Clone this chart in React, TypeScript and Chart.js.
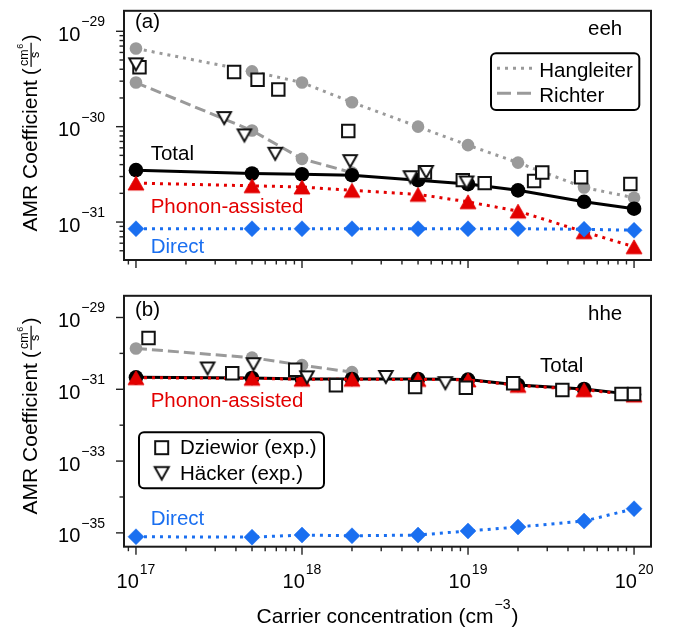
import React, { useEffect, useRef } from "react";
import { Chart, registerables } from "chart.js";
Chart.register(...registerables);

const FONT = '"Liberation Sans", Arial, Helvetica, sans-serif';
const RED = "#e30000";
const BLUE = "#1a6ff0";
const GRAY = "#9a9a9a";
const INK = "#111111";

// ---------- data ----------
const xTheory = [1e17, 5e17, 1e18, 2e18, 5e18, 1e19, 2e19, 5e19, 1e20];
const xRichter = [1e17, 5e17, 1e18, 2e18];

// (a) eeh
const eehTotal = [3.5e-31, 3.23e-31, 3.17e-31, 3.1e-31, 2.75e-31, 2.5e-31, 2.15e-31, 1.63e-31, 1.38e-31];
const eehPhonon = [2.56e-31, 2.4e-31, 2.33e-31, 2.15e-31, 1.95e-31, 1.63e-31, 1.3e-31, 7.9e-32, 5.5e-32];
const eehDirect = [8.5e-32, 8.5e-32, 8.5e-32, 8.5e-32, 8.5e-32, 8.5e-32, 8.5e-32, 8.4e-32, 8.2e-32];
const eehHangleiter = [6.6e-30, 3.8e-30, 2.9e-30, 1.8e-30, 1.0e-30, 6.4e-31, 4.2e-31, 2.3e-31, 1.8e-31];
const eehRichter = [2.9e-30, 9.1e-31, 4.6e-31, 3.3e-31];
const eehDziewiorX = [1.05e17, 3.9e17, 5.4e17, 7.2e17, 1.9e18, 5.5e18, 9.3e18, 1.26e19, 2.5e19, 2.8e19, 4.8e19, 9.5e19];
const eehDziewiorY = [4.2e-30, 3.75e-30, 3.1e-30, 2.45e-30, 9.0e-31, 3.3e-31, 2.75e-31, 2.56e-31, 2.7e-31, 3.3e-31, 2.95e-31, 2.5e-31];
const eehHackerX = [1e17, 3.4e17, 4.5e17, 6.9e17, 1.95e18, 4.5e18, 5.6e18, 9.8e18];
const eehHackerY = [4.5e-30, 1.23e-30, 8.1e-31, 5.2e-31, 4.35e-31, 2.95e-31, 3.35e-31, 2.6e-31];

// (b) hhe
const hheTotal = [2.15e-31, 2.06e-31, 1.93e-31, 1.93e-31, 1.93e-31, 1.86e-31, 1.32e-31, 1.02e-31, 7.1e-32];
const hhePhonon = [2.1e-31, 2.02e-31, 1.9e-31, 1.9e-31, 1.88e-31, 1.82e-31, 1.28e-31, 9.7e-32, 6.9e-32];
const hheDirect = [7.8e-36, 7.6e-36, 8.7e-36, 8.3e-36, 8.7e-36, 1.13e-35, 1.46e-35, 2.13e-35, 4.7e-35];
const hheRichter = [1.37e-30, 7.6e-31, 4.7e-31, 3.0e-31];
const hheDziewiorX = [1.19e17, 3.8e17, 9.1e17, 1.6e18, 4.8e18, 9.7e18, 1.87e19, 3.7e19, 8.4e19, 1e20];
const hheDziewiorY = [2.7e-30, 2.8e-31, 3.5e-31, 1.3e-31, 1.15e-31, 1.1e-31, 1.48e-31, 9.6e-32, 7.4e-32, 7.4e-32];
const hheHackerX = [2.7e17, 5.1e17, 1.07e18, 3.2e18, 7.3e18];
const hheHackerY = [3.8e-31, 5.0e-31, 2.15e-31, 2.2e-31, 1.48e-31];

// axes
const xRange = [8.47e16, 1.265e20];
const yRangeTop = [4.07e-32, 1.64e-29];
const yRangeBottom = [4.12e-36, 4.02e-29];
const xMajorTicks = [1e17, 1e18, 1e19, 1e20];
const xTickExps = ["17", "18", "19", "20"];
const yMajorTop = [1e-31, 1e-30, 1e-29];
const yExpTop = ["\u221231", "\u221230", "\u221229"];
const yMajorBottom = [1e-35, 1e-33, 1e-31, 1e-29];
const yExpBottom = ["\u221235", "\u221233", "\u221231", "\u221229"];
const yMinorBottom = [1e-34, 1e-32, 1e-30];

const pts = (xs: number[], ys: number[]) => xs.map((x, i) => ({ x, y: ys[i] }));

function makeTriangle(w: number, h: number, down: boolean, fill: string | null, stroke: string | null, lw: number) {
  const c = document.createElement("canvas");
  const pad = Math.ceil(lw) + 1;
  c.width = Math.ceil(w + 2 * pad);
  c.height = Math.ceil(h + 2 * pad);
  const ctx = c.getContext("2d")!;
  const cx = c.width / 2, cy = c.height / 2;
  ctx.beginPath();
  if (down) {
    ctx.moveTo(cx - w / 2, cy - h / 2);
    ctx.lineTo(cx + w / 2, cy - h / 2);
    ctx.lineTo(cx, cy + h / 2);
  } else {
    ctx.moveTo(cx - w / 2, cy + h / 2);
    ctx.lineTo(cx + w / 2, cy + h / 2);
    ctx.lineTo(cx, cy - h / 2);
  }
  ctx.closePath();
  if (fill) { ctx.fillStyle = fill; ctx.fill(); }
  if (stroke) { ctx.lineWidth = lw; ctx.lineJoin = "miter"; ctx.strokeStyle = stroke; ctx.stroke(); }
  return c;
}

function minorTicks(min: number, max: number) {
  const out: number[] = [];
  for (let e = Math.floor(Math.log10(min)) - 1; e <= Math.ceil(Math.log10(max)); e++) {
    for (let k = 2; k <= 9; k++) {
      const v = k * Math.pow(10, e);
      if (v >= min && v <= max) out.push(v);
    }
  }
  return out;
}

function drawPow(ctx: CanvasRenderingContext2D, exp: string, x: number, baseline: number, align: "right" | "center") {
  ctx.font = `20px ${FONT}`;
  const w10 = ctx.measureText("10").width;
  ctx.font = `14px ${FONT}`;
  const we = ctx.measureText(exp).width;
  const gap = 1;
  const total = w10 + gap + we;
  const sx = align === "right" ? x - total : x - total / 2;
  ctx.textAlign = "left";
  ctx.textBaseline = "alphabetic";
  ctx.font = `20px ${FONT}`;
  ctx.fillText("10", sx, baseline);
  ctx.font = `14px ${FONT}`;
  ctx.fillText(exp, sx + w10 + gap, baseline - 14.5);
}

function drawYTitle(ctx: CanvasRenderingContext2D, xBase: number, cy: number) {
  ctx.save();
  ctx.translate(xBase, cy);
  ctx.rotate(-Math.PI / 2);
  ctx.fillStyle = "#000";
  ctx.textAlign = "left";
  ctx.textBaseline = "alphabetic";
  const mainFont = `21px ${FONT}`, parFont = `20px ${FONT}`, fracFont = `12.5px ${FONT}`, supFont = `9px ${FONT}`;
  const tMain = "AMR Coefficient";
  ctx.font = mainFont; const wMain = ctx.measureText(tMain).width;
  ctx.font = parFont; const wPar = ctx.measureText("(").width;
  ctx.font = fracFont; const wCm = ctx.measureText("cm").width; const wS = ctx.measureText("s").width;
  ctx.font = supFont; const w6 = ctx.measureText("6").width;
  const wNum = wCm + w6 + 0.5;
  const wFrac = Math.max(wNum, wS) + 3;
  const gap1 = 5;
  const total = wMain + gap1 + wPar + 1 + wFrac + 1 + wPar;
  let x = -total / 2;
  ctx.font = mainFont; ctx.fillText(tMain, x, 0); x += wMain + gap1;
  ctx.font = parFont; ctx.fillText("(", x, -0.5); x += wPar + 1;
  const nx = x + (wFrac - wNum) / 2;
  ctx.font = fracFont; ctx.fillText("cm", nx, -9);
  ctx.font = supFont; ctx.fillText("6", nx + wCm + 0.5, -14);
  ctx.fillRect(x + 0.5, -6.5, wFrac - 1, 1.2);
  ctx.font = fracFont; ctx.fillText("s", x + (wFrac - wS) / 2, 1.5);
  x += wFrac + 1;
  ctx.font = parFont; ctx.fillText(")", x, -0.5);
  ctx.restore();
}

function roundRect(ctx: CanvasRenderingContext2D, x: number, y: number, w: number, h: number, r: number) {
  ctx.beginPath();
  ctx.moveTo(x + r, y);
  ctx.lineTo(x + w - r, y);
  ctx.arcTo(x + w, y, x + w, y + r, r);
  ctx.lineTo(x + w, y + h - r);
  ctx.arcTo(x + w, y + h, x + w - r, y + h, r);
  ctx.lineTo(x + r, y + h);
  ctx.arcTo(x, y + h, x, y + h - r, r);
  ctx.lineTo(x, y + r);
  ctx.arcTo(x, y, x + r, y, r);
  ctx.closePath();
}

type Note = { text: string; x: number; y: number; color: string };

type Panel = {
  id: string;
  offset: number;
  yMajor: number[];
  yExp: string[];
  yMinor: number[];
  xLabels: boolean;
  titleY: number;
  notes: Note[];
  legend: (ctx: CanvasRenderingContext2D, off: number) => void;
};

function figurePlugin(p: Panel) {
  return {
    id: "figure_" + p.id,
    afterDraw(chart: any) {
      const ctx: CanvasRenderingContext2D = chart.ctx;
      const ca = chart.chartArea;
      const xs = chart.scales.x, ys = chart.scales.y;
      const off = p.offset;
      ctx.save();
      ctx.strokeStyle = "#222";
      ctx.lineWidth = 1.4;
      ctx.setLineDash([]);
      const line = (x1: number, y1: number, x2: number, y2: number) => {
        ctx.beginPath(); ctx.moveTo(x1, y1); ctx.lineTo(x2, y2); ctx.stroke();
      };
      for (const v of xMajorTicks) { const x = xs.getPixelForValue(v); line(x, ca.bottom, x, ca.bottom + 8); }
      for (const v of minorTicks(xRange[0], xRange[1])) { const x = xs.getPixelForValue(v); line(x, ca.bottom, x, ca.bottom + 4.5); }
      for (const v of p.yMajor) { const y = ys.getPixelForValue(v); line(ca.left - 8, y, ca.left, y); }
      for (const v of p.yMinor) { const y = ys.getPixelForValue(v); line(ca.left - 4.5, y, ca.left, y); }
      // frame
      ctx.lineWidth = 2;
      ctx.strokeStyle = "#1a1a1a";
      ctx.strokeRect(ca.left, ca.top, ca.right - ca.left, ca.bottom - ca.top);
      // tick labels
      ctx.fillStyle = "#000";
      p.yMajor.forEach((v, i) => {
        const y = ys.getPixelForValue(v);
        drawPow(ctx, p.yExp[i], ca.left - 19, y + 9.5, "right");
      });
      if (p.xLabels) {
        xMajorTicks.forEach((v, i) => {
          const x = xs.getPixelForValue(v);
          drawPow(ctx, xTickExps[i], x, ca.bottom + 41.6, "center");
        });
        // x title
        const mf = `21px ${FONT}`, sf = `14px ${FONT}`;
        ctx.font = mf; const w1 = ctx.measureText("Carrier concentration (cm").width;
        ctx.font = sf; const w2 = ctx.measureText("\u22123").width;
        ctx.font = mf; const w3 = ctx.measureText(")").width;
        const tot = w1 + 1 + w2 + 1 + w3;
        const cx = (ca.left + ca.right) / 2;
        const bl = 623.3 - off;
        let sx = cx - tot / 2;
        ctx.textAlign = "left"; ctx.textBaseline = "alphabetic";
        ctx.font = mf; ctx.fillText("Carrier concentration (cm", sx, bl); sx += w1 + 1;
        ctx.font = sf; ctx.fillText("\u22123", sx, bl - 14.5); sx += w2 + 1;
        ctx.font = mf; ctx.fillText(")", sx, bl);
      }
      drawYTitle(ctx, 37, p.titleY - off);
      // annotations
      ctx.textAlign = "left";
      ctx.textBaseline = "alphabetic";
      ctx.font = `20.5px ${FONT}`;
      for (const n of p.notes) {
        ctx.fillStyle = n.color;
        ctx.fillText(n.text, n.x, n.y - off);
      }
      p.legend(ctx, off);
      ctx.restore();
    },
  };
}

const triUpRed = () => makeTriangle(16, 14, false, RED, RED, 0.8);
const triDownOpen = () => makeTriangle(13.5, 12, true, "#ffffff", INK, 2);

function buildDatasets(d: {
  total: number[]; phonon: number[]; direct: number[]; richter: number[]; hangleiter?: number[];
  dzX: number[]; dzY: number[]; hkX: number[]; hkY: number[];
}) {
  const tUp = triUpRed();
  const tDown = triDownOpen();
  const ds: any[] = [
    { label: "Häcker (exp.)", data: pts(d.hkX, d.hkY), showLine: false, pointStyle: tDown, pointRadius: 7,
      borderColor: INK, backgroundColor: "#fff" },
    { label: "Dziewior (exp.)", data: pts(d.dzX, d.dzY), showLine: false, pointStyle: "rect", pointRadius: 8.8,
      pointBackgroundColor: "#fff", pointBorderColor: INK, pointBorderWidth: 2, borderColor: INK, backgroundColor: "#fff" },
    { label: "Direct", data: pts(xTheory, d.direct), borderColor: BLUE, borderWidth: 3, borderDash: [3, 5],
      pointStyle: "rectRot", pointRadius: 8, pointBackgroundColor: BLUE, pointBorderColor: BLUE, pointBorderWidth: 0.5 },
    { label: "Phonon-assisted", data: pts(xTheory, d.phonon), borderColor: RED, borderWidth: 3, borderDash: [3, 5],
      pointStyle: tUp, pointRadius: 7 },
    { label: "Total", data: pts(xTheory, d.total), borderColor: "#000", borderWidth: 3,
      pointStyle: "circle", pointRadius: 7.3, pointBackgroundColor: "#000", pointBorderColor: "#000", pointBorderWidth: 0 },
    { label: "Richter", data: pts(xRichter, d.richter), borderColor: GRAY, borderWidth: 3, borderDash: [11, 5],
      pointStyle: "circle", pointRadius: 6.3, pointBackgroundColor: GRAY, pointBorderColor: GRAY, pointBorderWidth: 0 },
  ];
  if (d.hangleiter) {
    ds.push({ label: "Hangleiter", data: pts(xTheory, d.hangleiter), borderColor: GRAY, borderWidth: 3, borderDash: [3, 5],
      pointStyle: "circle", pointRadius: 6.3, pointBackgroundColor: GRAY, pointBorderColor: GRAY, pointBorderWidth: 0 });
  }
  return ds.map((x) => ({ fill: false, tension: 0, borderCapStyle: "butt", pointHoverRadius: x.pointRadius, ...x }));
}

function makeConfig(datasets: any[], yRange: number[], plugin: any, padTop: number, xHeight: number) {
  return {
    type: "line",
    data: { datasets },
    options: {
      animation: false,
      responsive: false,
      maintainAspectRatio: false,
      devicePixelRatio: 1,
      events: [],
      layout: { padding: { top: padTop, right: 26, left: 0, bottom: 0 } },
      plugins: { legend: { display: false }, tooltip: { enabled: false } },
      scales: {
        x: {
          type: "logarithmic", min: xRange[0], max: xRange[1],
          grid: { display: false, drawTicks: false }, border: { display: false },
          ticks: { display: false },
          afterFit: (s: any) => { s.height = xHeight; },
        },
        y: {
          type: "logarithmic", min: yRange[0], max: yRange[1],
          grid: { display: false, drawTicks: false }, border: { display: false },
          ticks: { display: false },
          afterFit: (s: any) => { s.width = 124; },
        },
      },
    },
    plugins: [plugin],
  };
}

const topLegend = (ctx: CanvasRenderingContext2D, off: number) => {
  const y0 = 53.3 - off;
  roundRect(ctx, 491, y0, 148.3, 56.7, 5);
  ctx.fillStyle = "#fff"; ctx.fill();
  ctx.setLineDash([]); ctx.lineWidth = 2; ctx.strokeStyle = "#000"; ctx.stroke();
  ctx.strokeStyle = GRAY; ctx.lineWidth = 3; ctx.lineCap = "butt";
  ctx.setLineDash([3, 5]);
  ctx.beginPath(); ctx.moveTo(497, 68.3 - off); ctx.lineTo(532, 68.3 - off); ctx.stroke();
  ctx.setLineDash([14, 6]);
  ctx.beginPath(); ctx.moveTo(497, 93.3 - off); ctx.lineTo(531, 93.3 - off); ctx.stroke();
  ctx.setLineDash([]);
  ctx.fillStyle = "#000"; ctx.font = `20.5px ${FONT}`; ctx.textAlign = "left"; ctx.textBaseline = "alphabetic";
  ctx.fillText("Hangleiter", 539.3, 76.7 - off);
  ctx.fillText("Richter", 539.3, 101.7 - off);
};

const bottomLegend = (ctx: CanvasRenderingContext2D, off: number) => {
  const y0 = 432.3 - off;
  roundRect(ctx, 139, y0, 185, 56, 5);
  ctx.fillStyle = "#fff"; ctx.fill();
  ctx.setLineDash([]); ctx.lineWidth = 2; ctx.strokeStyle = "#000"; ctx.stroke();
  ctx.strokeStyle = INK; ctx.lineWidth = 2;
  ctx.strokeRect(161.7 - 6.5, 447.7 - off - 6.5, 13, 13);
  const t = makeTriangle(14, 12.5, true, "#ffffff", INK, 2);
  ctx.drawImage(t, 161.7 - t.width / 2, 473.3 - off - t.height / 2);
  ctx.fillStyle = "#000"; ctx.font = `20.5px ${FONT}`; ctx.textAlign = "left"; ctx.textBaseline = "alphabetic";
  ctx.fillText("Dziewior (exp.)", 180, 454.3 - off);
  ctx.fillText("Häcker (exp.)", 180, 480 - off);
};

const topPanel: Panel = {
  id: "a", offset: 0, yMajor: yMajorTop, yExp: yExpTop, yMinor: minorTicks(yRangeTop[0], yRangeTop[1]),
  xLabels: false, titleY: 133,
  notes: [
    { text: "(a)", x: 135, y: 27.5, color: "#000" },
    { text: "eeh", x: 588, y: 35, color: "#000" },
    { text: "Total", x: 150.7, y: 159.5, color: "#000" },
    { text: "Phonon-assisted", x: 150.7, y: 212.7, color: RED },
    { text: "Direct", x: 150.7, y: 253.3, color: BLUE },
  ],
  legend: topLegend,
};

const bottomPanel: Panel = {
  id: "b", offset: 285, yMajor: yMajorBottom, yExp: yExpBottom, yMinor: yMinorBottom,
  xLabels: true, titleY: 416,
  notes: [
    { text: "(b)", x: 135, y: 315.7, color: "#000" },
    { text: "hhe", x: 588, y: 320, color: "#000" },
    { text: "Total", x: 540, y: 371.7, color: "#000" },
    { text: "Phonon-assisted", x: 150.7, y: 406.5, color: RED },
    { text: "Direct", x: 150.7, y: 525, color: BLUE },
  ],
  legend: bottomLegend,
};

export default function App() {
  const topRef = useRef<HTMLCanvasElement>(null);
  const botRef = useRef<HTMLCanvasElement>(null);
  useEffect(() => {
    const c1 = new Chart(topRef.current!, makeConfig(buildDatasets({
      total: eehTotal, phonon: eehPhonon, direct: eehDirect, richter: eehRichter, hangleiter: eehHangleiter,
      dzX: eehDziewiorX, dzY: eehDziewiorY, hkX: eehHackerX, hkY: eehHackerY,
    }), yRangeTop, figurePlugin(topPanel), 5, 25) as any);
    const c2 = new Chart(botRef.current!, makeConfig(buildDatasets({
      total: hheTotal, phonon: hhePhonon, direct: hheDirect, richter: hheRichter,
      dzX: hheDziewiorX, dzY: hheDziewiorY, hkX: hheHackerX, hkY: hheHackerY,
    }), yRangeBottom, figurePlugin(bottomPanel), 7.3, 80.3) as any);
    return () => { c1.destroy(); c2.destroy(); };
  }, []);
  return (
    <div style={{ position: "fixed", left: 0, top: 0, width: 677, height: 627, background: "#fff" }}>
      <canvas ref={topRef} width={677} height={285} style={{ position: "absolute", left: 0, top: 0, width: 677, height: 285 }} />
      <canvas ref={botRef} width={677} height={342} style={{ position: "absolute", left: 0, top: 285, width: 677, height: 342 }} />
    </div>
  );
}
